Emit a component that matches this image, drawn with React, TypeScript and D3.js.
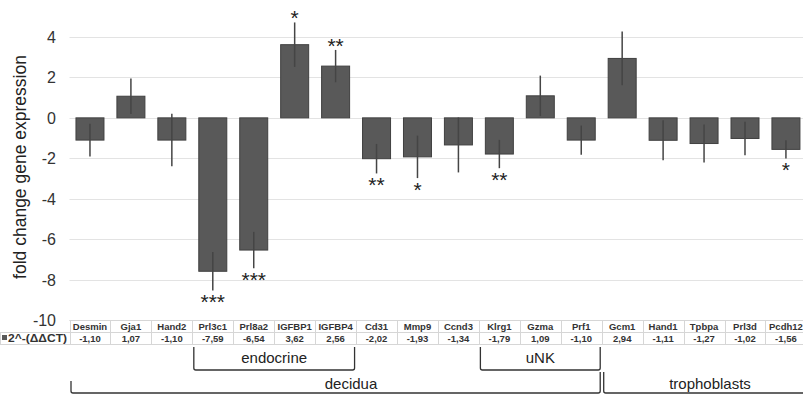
import * as d3 from "d3";

const genes = ["Desmin", "Gja1", "Hand2", "Prl3c1", "Prl8a2", "IGFBP1", "IGFBP4", "Cd31", "Mmp9", "Ccnd3", "Klrg1", "Gzma", "Prf1", "Gcm1", "Hand1", "Tpbpa", "Prl3d", "Pcdh12"];
const foldChange = [-1.10, 1.07, -1.10, -7.59, -6.54, 3.62, 2.56, -2.02, -1.93, -1.34, -1.79, 1.09, -1.10, 2.94, -1.11, -1.27, -1.02, -1.56];
const errors = [0.81, 0.88, 1.3, 0.95, 0.9, 1.1, 0.8, 0.73, 1.05, 1.36, 0.7, 1.0, 0.72, 1.33, 0.99, 0.94, 0.83, 0.45];
const stars = ["", "", "", "***", "***", "*", "**", "**", "*", "", "**", "", "", "", "", "", "", "*"];
const yTicks = [4, 2, 0, -2, -4, -6, -8, -10];
const seriesName = "2^-(ΔΔCT)";

// [label, first gene, last gene]
const innerGroups: [string, string, string][] = [["endocrine", "Prl3c1", "IGFBP4"], ["uNK", "Klrg1", "Prf1"]];
const outerGroups: [string, string, string][] = [["decidua", "Desmin", "Prf1"], ["trophoblasts", "Gcm1", "Pcdh12"]];

const W = 803, H = 395;
const FONT = "'Liberation Sans', Arial, sans-serif";

const fmt = (v: number) => v.toFixed(2).replace(".", ",");

export default function App() {
  const pad = 0.316;
  const x = d3.scaleBand<string>().domain(genes).range([69.5, 806.4]).paddingInner(pad).paddingOuter(pad / 2);
  const y = d3.scaleLinear().domain([-10, 4]).range([320, 37]);
  const step = x.step();
  const x0 = x.range()[0];
  const cellStart = (g: string) => x0 + genes.indexOf(g) * step;
  const cellEnd = (g: string) => cellStart(g) + step;
  const cx = (g: string) => (x(g) as number) + x.bandwidth() / 2;

  const tTop = 320.5, tMid = 332.5, tBot = 344.5;
  const lineCol = "#d6d6d6";

  return (
    <svg width={W} height={H} style={{ position: "absolute", left: 0, top: 0, background: "#fff" }} fontFamily={FONT}>
      {/* gridlines */}
      {yTicks.map((t) => (
        <line key={"g" + t} x1={69.5} x2={W} y1={Math.round(y(t)) + 0.5} y2={Math.round(y(t)) + 0.5} stroke="#e3e3e3" strokeWidth={1} />
      ))}
      {/* tick labels */}
      {yTicks.map((t) => (
        <text key={"t" + t} x={56} y={y(t) + 6} textAnchor="end" fontSize={16} fill="#333">{t}</text>
      ))}
      <text transform={`translate(26,167) rotate(-90)`} textAnchor="middle" fontSize={17.5} fill="#222">fold change gene expression</text>

      {/* bars */}
      {genes.map((g, i) => {
        const v = foldChange[i];
        return (
          <rect key={"b" + g} x={x(g)} width={x.bandwidth()} y={Math.min(y(v), y(0))} height={Math.abs(y(v) - y(0))}
            fill="#595959" stroke="#404040" strokeWidth={1} />
        );
      })}
      {/* error bars */}
      {genes.map((g, i) => {
        const v = foldChange[i], e = errors[i];
        return <line key={"e" + g} x1={cx(g)} x2={cx(g)} y1={y(v + e)} y2={y(v - e)} stroke="#454545" strokeWidth={1.5} />;
      })}
      {/* significance */}
      {genes.map((g, i) => {
        if (!stars[i]) return null;
        const v = foldChange[i], e = errors[i];
        const yy = v > 0 ? y(v + e) + 3 : y(v - e) + 18.5;
        return <text key={"s" + g} x={cx(g)} y={yy} textAnchor="middle" fontSize={21} fill="#222">{stars[i]}</text>;
      })}

      {/* data table */}
      <line x1={69.5} x2={W} y1={tTop} y2={tTop} stroke={lineCol} />
      <line x1={0} x2={W} y1={tMid} y2={tMid} stroke={lineCol} />
      <line x1={0} x2={W} y1={tBot} y2={tBot} stroke={lineCol} />
      <line x1={0.5} x2={0.5} y1={tMid} y2={tBot} stroke={lineCol} />
      {genes.map((g) => (
        <line key={"v" + g} x1={Math.round(cellStart(g)) + 0.5} x2={Math.round(cellStart(g)) + 0.5} y1={tTop} y2={tBot} stroke={lineCol} />
      ))}
      {genes.map((g, i) => (
        <g key={"c" + g} fontSize={9.5} fontWeight="bold" fill="#333" textAnchor="middle">
          <text x={cx(g)} y={330}>{g}</text>
          <text x={cx(g)} y={342}>{fmt(foldChange[i])}</text>
        </g>
      ))}
      <rect x={2} y={335} width={5} height={5} fill="#595959" />
      <text x={8} y={342} fontSize={10.5} fontWeight="bold" fill="#333" textLength={59} lengthAdjust="spacingAndGlyphs">{seriesName}</text>

      {/* group brackets */}
      {innerGroups.map(([label, a, b]) => {
        const l = cellStart(a) + 1.5, r = cellEnd(b) - 1.5;
        return (
          <g key={label}>
            <path d={`M${l},347 L${l},368 Q${l},370 ${l + 2},370 L${r - 2},370 Q${r},370 ${r},368 L${r},347`} fill="none" stroke="#333" strokeWidth={1.3} />
            <text x={(l + r) / 2} y={363} textAnchor="middle" fontSize={15} fill="#222">{label}</text>
          </g>
        );
      })}
      {outerGroups.map(([label, a, b], k) => {
        const l = cellStart(a) + (k === 0 ? 1.5 : 2), r = Math.min(cellEnd(b) - 1.5, W + 20);
        const topL = k === 0 ? 381 : 372;
        const topR = k === 0 ? 372 : 380;
        return (
          <g key={label}>
            <path d={`M${l},${topL} L${l},391 Q${l},393 ${l + 2},393 L${r - 2},393 Q${r},393 ${r},391 L${r},${topR}`} fill="none" stroke="#333" strokeWidth={1.3} />
            <text x={k === 0 ? 351 : 710} y={389} textAnchor="middle" fontSize={15} fill="#222">{label}</text>
          </g>
        );
      })}
    </svg>
  );
}
